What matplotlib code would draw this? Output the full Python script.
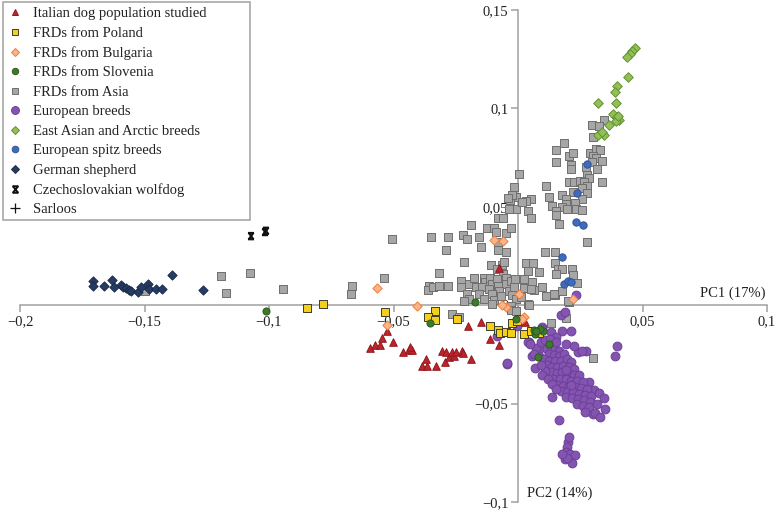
import matplotlib
matplotlib.use("Agg")
import matplotlib.pyplot as plt
from matplotlib.path import Path
from matplotlib.lines import Line2D
from matplotlib.patches import Rectangle

plt.rcParams['font.family'] = ['Liberation Serif', 'DejaVu Serif']

# ---- data (PC1, PC2) ----
italian_x = [-0.0594, -0.0574, -0.0554, -0.0546, -0.0526, -0.0502, -0.0462, -0.0438, -0.0426, -0.0434,
             -0.0386, -0.0365, -0.0369, -0.0329, -0.0305, -0.0289, -0.0293, -0.0277, -0.0265, -0.0257,
             -0.0249, -0.0225, -0.0221, -0.0189, -0.0201, -0.0149, -0.0112, -0.0076, 0.0028, 0.0004, -0.0076]
italian_y = [-0.0219, -0.0204, -0.0204, -0.0168, -0.0132, -0.0188, -0.0239, -0.0229, -0.0229, -0.0214,
             -0.0310, -0.0310, -0.0275, -0.0310, -0.0234, -0.0239, -0.0290, -0.0265, -0.0239, -0.0260,
             -0.0239, -0.0234, -0.0244, -0.0275, -0.0107, -0.0087, -0.0173, -0.0204, -0.0087, -0.0071, 0.0188]

poland_x = [-0.0847, -0.0783, -0.0534, -0.0333, -0.0361, -0.0333, -0.0245, -0.0112, -0.0080, -0.0072,
            -0.0048, -0.0028, -0.0024, 0.0004, 0.0024, 0.0052, 0.0084, -0.0004]
poland_y = [-0.0015, 0.0005, -0.0036, -0.0031, -0.0061, -0.0076, -0.0071, -0.0107, -0.0127, -0.0142,
            -0.0137, -0.0142, -0.0092, -0.0071, -0.0148, -0.0132, -0.0142, -0.0081]

bulgaria_x = [-0.0566, -0.0526, -0.0406, -0.0096, -0.0060, -0.0048, 0.0024, -0.0064, 0.0221, 0.0004, 0.0016]
bulgaria_y = [0.0087, -0.0102, -0.0005, 0.0331, 0.0326, -0.0010, -0.0061, 0.0000, 0.0031, 0.0056, -0.0071]

slovenia_x = [-0.1012, -0.0353, -0.0173, 0.0068, 0.0100, 0.0124, 0.0080, 0.0064, 0.0088, 0.0072, -0.0008]
slovenia_y = [-0.0031, -0.0092, 0.0015, -0.0148, -0.0132, -0.0198, -0.0265, -0.0127, -0.0122, -0.0132, -0.0071]

asia_x = [-0.1498, -0.1193, -0.1173, -0.1076, -0.0944, -0.0667, -0.0671, -0.0538, -0.0506,
          -0.0349, -0.0281, -0.0221, -0.0205, -0.0157, -0.0189, -0.0124, -0.0096, -0.0080, -0.0060,
          -0.0088, -0.0048, -0.0028, -0.0080, -0.0080, -0.0289, -0.0149, -0.0048, -0.0217, -0.0108,
          -0.0064, -0.0084, -0.0060, -0.0048, -0.0317, -0.0357, -0.0361, -0.0341, -0.0317, -0.0281,
          -0.0229, -0.0229, -0.0197, -0.0177, -0.0169, -0.0137, -0.0133, -0.0112, -0.0104, -0.0084,
          -0.0080, -0.0048, -0.0028, -0.0145, -0.0116, -0.0076, -0.0036, -0.0016, -0.0205, -0.0197,
          -0.0157, -0.0137, -0.0104, -0.0096, -0.0068, -0.0024, -0.0008, -0.0028, -0.0012, -0.0008,
          -0.0032, -0.0008, -0.0036, -0.0016, -0.0056, 0.0003, -0.0024, -0.0040, -0.0265, -0.0237,
          -0.0217, -0.0104, -0.0028, -0.0008, 0.0040,
          0.0345, 0.0297, 0.0325, 0.0301, 0.0185, 0.0153, 0.0153, 0.0205, 0.0221, 0.0213, 0.0213,
          0.0289, 0.0313, 0.0329, 0.0301, 0.0313, 0.0297, 0.0273, 0.0317, 0.0337, 0.0277, 0.0285,
          0.0205, 0.0225, 0.0249, 0.0265, 0.0277, 0.0257, 0.0221, 0.0277, 0.0337, 0.0257, 0.0112,
          0.0124, 0.0177, 0.0193, 0.0193, 0.0137, 0.0229, 0.0177, 0.0197, 0.0233, 0.0257, 0.0153,
          0.0153, 0.0165, 0.0052, 0.0032, 0.0016, 0.0040, 0.0052, 0.0277, 0.0108, 0.0149, 0.0032,
          0.0060, 0.0149, 0.0040, 0.0084, 0.0161, 0.0177, 0.0153, 0.0217, 0.0221, 0.0237, 0.0024,
          0.0056, 0.0024, 0.0064, 0.0096, 0.0112, 0.0149, 0.0177, 0.0205, 0.0044, 0.0012, 0.0052,
          0.0145, 0.0201, 0.0133, 0.0193, 0.0301, 0.0153]
asia_y = [0.0071, 0.0148, 0.0061, 0.0163, 0.0081, 0.0097, 0.0056, 0.0137, 0.0336,
          0.0346, 0.0346, 0.0356, 0.0336, 0.0346, 0.0407, 0.0392, 0.0392, 0.0443, 0.0443,
          0.0371, 0.0366, 0.0392, 0.0321, 0.0280, 0.0280, 0.0295, 0.0270, 0.0219, 0.0204,
          0.0204, 0.0183, 0.0158, 0.0137, 0.0163, 0.0097, 0.0076, 0.0092, 0.0097, 0.0097,
          0.0122, 0.0092, 0.0107, 0.0137, 0.0092, 0.0137, 0.0117, 0.0137, 0.0107, 0.0132,
          0.0097, 0.0107, 0.0122, 0.0092, 0.0081, 0.0071, 0.0071, 0.0092, 0.0056, 0.0031,
          0.0056, 0.0031, 0.0056, 0.0025, 0.0046, 0.0051, 0.0031, -0.0005, 0.0132, 0.0550,
          0.0534, 0.0489, 0.0489, 0.0601, 0.0219, 0.0667, 0.0560, 0.0545, -0.0046, -0.0061,
          0.0020, 0.0005, -0.0025, -0.0031, 0.0005,
          0.0941, 0.0916, 0.0911, 0.0855, 0.0824, 0.0789, 0.0728, 0.0758, 0.0774, 0.0712, 0.0692,
          0.0774, 0.0794, 0.0789, 0.0758, 0.0748, 0.0728, 0.0702, 0.0692, 0.0733, 0.0662, 0.0646,
          0.0626, 0.0626, 0.0631, 0.0626, 0.0606, 0.0595, 0.0575, 0.0570, 0.0626, 0.0539, 0.0606,
          0.0550, 0.0560, 0.0539, 0.0514, 0.0504, 0.0519, 0.0499, 0.0489, 0.0489, 0.0483, 0.0478,
          0.0458, 0.0412, 0.0539, 0.0529, 0.0524, 0.0478, 0.0443, 0.0321, 0.0270, 0.0270, 0.0214,
          0.0214, 0.0214, 0.0173, 0.0168, 0.0183, 0.0183, 0.0158, 0.0183, 0.0153, 0.0112, 0.0132,
          0.0117, 0.0087, 0.0076, 0.0092, 0.0046, 0.0051, 0.0071, 0.0015, 0.0000, 0.0041, 0.0081,
          0.0056, 0.0020, -0.0092, -0.0066, -0.0270, -0.0346]

europe_x = [0.0173, 0.0189, 0.0096, 0.0133, 0.0177, 0.0213, 0.0044, 0.0084, 0.0084, 0.0153, 0.0193,
            0.0241, 0.0273, 0.0398, 0.0390, -0.0044, 0.0068, 0.0137, 0.0165, 0.0281, 0.0301, 0.0285,
            0.0305, 0.0201, 0.0197, 0.0193, 0.0209, 0.0229, 0.0189, 0.0217, 0.0197, 0.0205, 0.0177,
            -0.0084, -0.0004, -0.0044, 0.0040, 0.0072, 0.0056, 0.0233, 0.0092, 0.0096,
            0.0116, 0.0133, 0.0149, 0.0165, 0.0124, 0.0145, 0.0165, 0.0185, 0.0104, 0.0124, 0.0149,
            0.0173, 0.0197, 0.0213, 0.0116, 0.0137, 0.0157, 0.0181, 0.0205, 0.0225, 0.0133, 0.0157,
            0.0177, 0.0201, 0.0225, 0.0245, 0.0145, 0.0169, 0.0193, 0.0213, 0.0237, 0.0261, 0.0157,
            0.0181, 0.0205, 0.0229, 0.0253, 0.0277, 0.0173, 0.0197, 0.0221, 0.0245, 0.0269, 0.0293,
            0.0193, 0.0217, 0.0241, 0.0265, 0.0289, 0.0237, 0.0261, 0.0285, 0.0108, 0.0092, 0.0096,
            0.0120, 0.0137, 0.0153, 0.0325, 0.0345, 0.0317, 0.0269, 0.0309, 0.0329, 0.0108, 0.0129,
            0.0153, 0.0064, 0.0048, 0.0225, 0.0257, 0.0349, 0.0193, 0.0213]
europe_y = [-0.0051, -0.0036, -0.0112, -0.0137, -0.0132, -0.0132, -0.0188, -0.0224, -0.0260, -0.0163,
            -0.0198, -0.0239, -0.0234, -0.0209, -0.0260, -0.0300, -0.0321, -0.0468, -0.0585, -0.0539,
            -0.0555, -0.0392, -0.0433, -0.0697, -0.0723, -0.0748, -0.0758, -0.0763, -0.0784, -0.0804,
            -0.0774, -0.0672, -0.0758, -0.0158, -0.0107, -0.0295, -0.0188, -0.0219, -0.0260, 0.0051,
            -0.0188, -0.0122,
            -0.0224, -0.0214, -0.0224, -0.0234, -0.0249, -0.0254, -0.0260, -0.0249, -0.0275, -0.0285,
            -0.0285, -0.0285, -0.0275, -0.0290, -0.0305, -0.0316, -0.0316, -0.0310, -0.0316, -0.0326,
            -0.0341, -0.0346, -0.0341, -0.0346, -0.0356, -0.0356, -0.0377, -0.0377, -0.0377, -0.0387,
            -0.0387, -0.0392, -0.0407, -0.0412, -0.0412, -0.0417, -0.0422, -0.0427, -0.0438, -0.0443,
            -0.0443, -0.0453, -0.0458, -0.0463, -0.0468, -0.0473, -0.0478, -0.0483, -0.0494, -0.0504,
            -0.0514, -0.0519, -0.0336, -0.0305, -0.0356, -0.0377, -0.0402, -0.0427, -0.0448, -0.0473,
            -0.0504, -0.0545, -0.0550, -0.0570, -0.0178, -0.0173, -0.0188, -0.0249, -0.0198, -0.0209,
            -0.0234, -0.0529, -0.0331, -0.0407]

eastasia_x = [0.0470, 0.0458, 0.0450, 0.0438, 0.0442, 0.0398, 0.0390, 0.0394, 0.0321, 0.0382, 0.0398,
              0.0406, 0.0394, 0.0365, 0.0345, 0.0321, 0.0337, 0.0402]
eastasia_y = [0.1308, 0.1293, 0.1277, 0.1262, 0.1160, 0.1115, 0.1084, 0.1028, 0.1028, 0.0972, 0.0957,
              0.0941, 0.0936, 0.0916, 0.0865, 0.0865, 0.0880, 0.0962]

spitz_x = [0.0277, 0.0237, 0.0233, 0.0261, 0.0177, 0.0185, 0.0201, 0.0213]
spitz_y = [0.0718, 0.0570, 0.0422, 0.0407, 0.0244, 0.0107, 0.0122, 0.0117]

gsd_x = [-0.1707, -0.1707, -0.1663, -0.1631, -0.1622, -0.1594, -0.1586, -0.1574, -0.1562, -0.1554,
         -0.1526, -0.1514, -0.1486, -0.1482, -0.1454, -0.1430, -0.1390, -0.1265]
gsd_y = [0.0122, 0.0097, 0.0097, 0.0127, 0.0092, 0.0102, 0.0092, 0.0087, 0.0076, 0.0071,
         0.0066, 0.0092, 0.0107, 0.0081, 0.0081, 0.0081, 0.0153, 0.0076]

czech_x = [-0.1072, -0.1016, -0.1012]
czech_y = [0.0351, 0.0372, 0.0378]

sarloos_x = [-0.0337, -0.0719]
sarloos_y = [0.0606, 0.0382]

# X with short bars top and bottom (Excel style marker), open
czech_marker = Path([(-0.8, -1), (0.8, 1), (-0.8, 1), (0.8, -1),
                     (-0.9, 1), (0.9, 1), (-0.9, -1), (0.9, -1)],
                    [Path.MOVETO, Path.LINETO] * 4)

groups = [
    ("Italian dog population studied", italian_x, italian_y, "^", "#c0232b", "#8e1a1f", 30),
    ("FRDs from Poland", poland_x, poland_y, "s", "#f4d01c", "#3d3d2a", 26),
    ("FRDs from Bulgaria", bulgaria_x, bulgaria_y, "D", "#fbb48a", "#ef7d3a", 22),
    ("FRDs from Slovenia", slovenia_x, slovenia_y, "o", "#3f7a2c", "#2b5a1e", 26),
    ("FRDs from Asia", asia_x, asia_y, "s", "#a6a6a6", "#6e6e6e", 28),
    ("European breeds", europe_x, europe_y, "o", "#8455b0", "#6c3f98", 40),
    ("East Asian and Arctic breeds", eastasia_x, eastasia_y, "D", "#92c053", "#62913a", 24),
    ("European spitz breeds", spitz_x, spitz_y, "o", "#3f6bbd", "#2f559c", 28),
    ("German shepherd", gsd_x, gsd_y, "D", "#263c63", "#1b2c4a", 22),
    ("Czechoslovakian wolfdog", czech_x, czech_y, czech_marker, "#111111", "#111111", 22),
    ("Sarloos", sarloos_x, sarloos_y, "+", "#111111", "#111111", 45),
]

fig = plt.figure(figsize=(7.77, 5.11), dpi=100)
ax = fig.add_axes([20 / 777, 9 / 511, 747 / 777, 492 / 511])
ax.set_xlim(-0.2, 0.1)
ax.set_ylim(-0.1, 0.15)
ax.patch.set_visible(False)

order = [4, 5, 0, 1, 2, 3, 6, 7, 8, 9, 10]
for z, i in enumerate(order):
    name, xs, ys, m, fc, ec, s = groups[i]
    if m == "+" or isinstance(m, Path):
        lw = 1.4 if isinstance(m, Path) else 0.9
        ax.scatter(xs, ys, marker=m, s=s, facecolors="none", edgecolors=fc, linewidths=lw, zorder=3 + z)
    else:
        ax.scatter(xs, ys, marker=m, s=s, c=fc, edgecolors=ec, linewidths=0.7, zorder=3 + z)

# axes through the origin
for side in ["top", "right"]:
    ax.spines[side].set_visible(False)
ax.spines["left"].set_position(("data", 0))
ax.spines["bottom"].set_position(("data", 0))
for side in ["left", "bottom"]:
    ax.spines[side].set_color("#a0a0a0")
    ax.spines[side].set_linewidth(1.1)


def fmt(v):
    if abs(v) < 1e-9:
        return "0"
    s = ("%g" % abs(v)).replace(".", ",")
    return ("\u2212" + s) if v < 0 else s


xticks = [-0.2, -0.15, -0.1, -0.05, 0, 0.05, 0.1]
yticks = [-0.1, -0.05, 0, 0.05, 0.1, 0.15]
ax.set_xticks(xticks)
ax.set_xticklabels([fmt(v) if v != 0 else "" for v in xticks])
ax.set_yticks(yticks)
ax.set_yticklabels([fmt(v) for v in yticks])
ax.tick_params(axis="both", direction="out", length=5, width=1.1, color="#a0a0a0",
               labelsize=10.5, labelcolor="#222222", pad=2)

ax.text(0.0995, 0.0028, "PC1 (17%)", ha="right", va="bottom", fontsize=10.5, color="#222222")
ax.text(0.0035, -0.0955, "PC2 (14%)", ha="left", va="center", fontsize=10.5, color="#222222")

handles = []
for name, xs, ys, m, fc, ec, s in groups:
    ms = s ** 0.5
    if m == "+" or isinstance(m, Path):
        lw = 1.4 if isinstance(m, Path) else 0.9
        h = Line2D([], [], linestyle="none", marker=m, markersize=ms, color=fc,
                   markerfacecolor="none", markeredgewidth=lw)
    else:
        h = Line2D([], [], linestyle="none", marker=m, markersize=ms * 0.9, markerfacecolor=fc,
                   markeredgecolor=ec, markeredgewidth=0.7)
    handles.append((h, name))

leg = fig.legend([h for h, n in handles], [n for h, n in handles], loc="upper left",
                 bbox_to_anchor=(3 / 777, 1 - 2 / 511), bbox_transform=fig.transFigure,
                 fontsize=10.5, frameon=False, labelspacing=0.43,
                 handlelength=1.0, handletextpad=0.7, borderpad=0.35, borderaxespad=0.0)
for t in leg.get_texts():
    t.set_color("#222222")

# legend frame, wider than the text like in the original
fig.patches.append(Rectangle((3 / 777, 1 - 220 / 511), 247 / 777, 218 / 511,
                             transform=fig.transFigure, fill=False,
                             edgecolor="#a0a0a0", linewidth=1.1))

fig.savefig("out.png", dpi=100)
